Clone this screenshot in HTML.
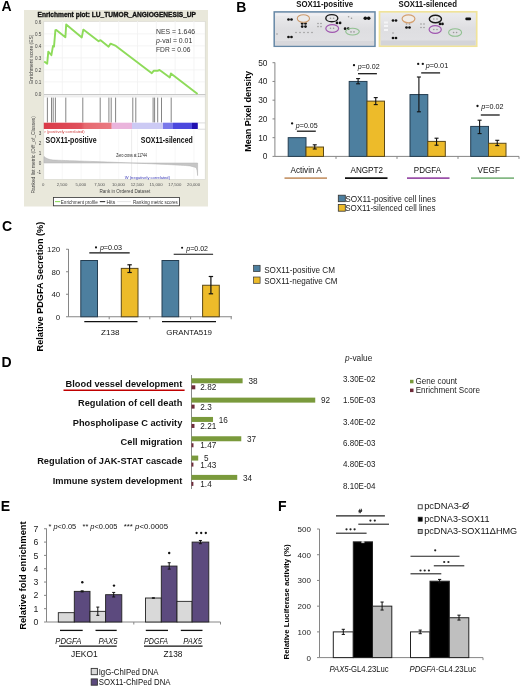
<!DOCTYPE html>
<html><head><meta charset="utf-8"><title>SOX11 angiogenesis figure</title>
<style>
html,body{margin:0;padding:0;background:#fff;}
body{width:520px;height:687px;overflow:hidden;}
svg{display:block;filter:blur(0.3px);font-family:"Liberation Sans",sans-serif;}
</style></head>
<body>
<svg width="520" height="687" viewBox="0 0 520 687">
<rect x="0" y="0" width="520" height="687" fill="#fff"/>
<text x="1.50" y="11.20" font-size="14" font-weight="bold">A</text>
<text x="236.20" y="11.50" font-size="14" font-weight="bold">B</text>
<text x="2.00" y="230.50" font-size="14" font-weight="bold">C</text>
<text x="1.50" y="367.30" font-size="14" font-weight="bold">D</text>
<text x="0.80" y="510.50" font-size="14" font-weight="bold">E</text>
<text x="278.00" y="511.20" font-size="14" font-weight="bold">F</text>
<rect x="24.00" y="10.00" width="184.00" height="196.50" fill="#e9e8db"/>
<text x="37.50" y="17.30" font-size="7.4" font-weight="bold" fill="#111" textLength="158.50" lengthAdjust="spacingAndGlyphs" stroke="#111" stroke-width="0.35">Enrichment plot: LU_TUMOR_ANGIOGENESIS_UP</text>
<rect x="43.80" y="21.30" width="161.40" height="158.20" fill="#fff" stroke="#d4d4cc" stroke-width="0.6"/>
<line x1="62.30" y1="21.00" x2="62.30" y2="94.00" stroke="#f1f1f1" stroke-width="0.8"/>
<line x1="62.30" y1="129.50" x2="62.30" y2="179.00" stroke="#f5f5f5" stroke-width="0.8"/>
<line x1="81.10" y1="21.00" x2="81.10" y2="94.00" stroke="#f1f1f1" stroke-width="0.8"/>
<line x1="81.10" y1="129.50" x2="81.10" y2="179.00" stroke="#f5f5f5" stroke-width="0.8"/>
<line x1="99.90" y1="21.00" x2="99.90" y2="94.00" stroke="#f1f1f1" stroke-width="0.8"/>
<line x1="99.90" y1="129.50" x2="99.90" y2="179.00" stroke="#f5f5f5" stroke-width="0.8"/>
<line x1="118.70" y1="21.00" x2="118.70" y2="94.00" stroke="#f1f1f1" stroke-width="0.8"/>
<line x1="118.70" y1="129.50" x2="118.70" y2="179.00" stroke="#f5f5f5" stroke-width="0.8"/>
<line x1="137.50" y1="21.00" x2="137.50" y2="94.00" stroke="#f1f1f1" stroke-width="0.8"/>
<line x1="137.50" y1="129.50" x2="137.50" y2="179.00" stroke="#f5f5f5" stroke-width="0.8"/>
<line x1="156.30" y1="21.00" x2="156.30" y2="94.00" stroke="#f1f1f1" stroke-width="0.8"/>
<line x1="156.30" y1="129.50" x2="156.30" y2="179.00" stroke="#f5f5f5" stroke-width="0.8"/>
<line x1="175.10" y1="21.00" x2="175.10" y2="94.00" stroke="#f1f1f1" stroke-width="0.8"/>
<line x1="175.10" y1="129.50" x2="175.10" y2="179.00" stroke="#f5f5f5" stroke-width="0.8"/>
<line x1="193.90" y1="21.00" x2="193.90" y2="94.00" stroke="#f1f1f1" stroke-width="0.8"/>
<line x1="193.90" y1="129.50" x2="193.90" y2="179.00" stroke="#f5f5f5" stroke-width="0.8"/>
<line x1="131.60" y1="129.50" x2="131.60" y2="179.00" stroke="#e6e6e6" stroke-width="0.8"/>
<line x1="44.00" y1="81.80" x2="205.00" y2="81.80" stroke="#f1f1f1" stroke-width="0.8"/>
<line x1="44.00" y1="69.80" x2="205.00" y2="69.80" stroke="#f1f1f1" stroke-width="0.8"/>
<line x1="44.00" y1="57.80" x2="205.00" y2="57.80" stroke="#f1f1f1" stroke-width="0.8"/>
<line x1="44.00" y1="45.80" x2="205.00" y2="45.80" stroke="#f1f1f1" stroke-width="0.8"/>
<line x1="44.00" y1="33.80" x2="205.00" y2="33.80" stroke="#f1f1f1" stroke-width="0.8"/>
<text x="41.40" y="95.50" font-size="4.6" text-anchor="end" fill="#444">0.0</text>
<text x="41.40" y="83.50" font-size="4.6" text-anchor="end" fill="#444">0.1</text>
<text x="41.40" y="71.50" font-size="4.6" text-anchor="end" fill="#444">0.2</text>
<text x="41.40" y="59.50" font-size="4.6" text-anchor="end" fill="#444">0.3</text>
<text x="41.40" y="47.50" font-size="4.6" text-anchor="end" fill="#444">0.4</text>
<text x="41.40" y="35.50" font-size="4.6" text-anchor="end" fill="#444">0.5</text>
<text x="41.40" y="23.50" font-size="4.6" text-anchor="end" fill="#444">0.6</text>
<text transform="translate(32.66,59.30) rotate(-90)" x="0" y="0" font-size="4.6" text-anchor="middle" fill="#444" textLength="49.40" lengthAdjust="spacingAndGlyphs">Enrichment score (ES)</text>
<line x1="44.00" y1="94.60" x2="205.50" y2="94.60" stroke="#c8c8c8" stroke-width="1.2"/>
<line x1="44.00" y1="96.80" x2="205.50" y2="96.80" stroke="#dedede" stroke-width="0.7"/>
<path d="M44.2,61.5 L47.2,63.7 L48.3,51.7 L51.4,55.2 L53.0,45.9 L54.0,46.6 L55.4,30.2 L56.3,30.0 L65.4,37.2 L66.2,24.4 L81.8,37.4 L83.3,29.6 L98.6,41.2 L100.6,40.2 L108.6,46.7 L110.6,43.6 L115.9,45.9 L151.8,73.2 L153.9,70.6 L157.5,70.8 L159.5,70.0 L161.3,71.2 L169.8,77.4 L170.9,73.4 L197.6,94.0" fill="none" stroke="#8edb5a" stroke-width="1.9" stroke-linejoin="round"/>
<text x="156.00" y="34.00" font-size="7.8" fill="#333" textLength="39.00" lengthAdjust="spacingAndGlyphs">NES = 1.646</text>
<text x="156.00" y="43.20" font-size="7.8" fill="#333" textLength="36.30" lengthAdjust="spacingAndGlyphs"><tspan font-style="italic">p</tspan>-val = 0.01</text>
<text x="156.00" y="52.30" font-size="7.8" fill="#333" textLength="34.40" lengthAdjust="spacingAndGlyphs">FDR = 0.06</text>
<line x1="47.40" y1="97.60" x2="47.40" y2="122.50" stroke="#777" stroke-width="0.9"/>
<line x1="51.50" y1="97.60" x2="51.50" y2="122.50" stroke="#777" stroke-width="0.9"/>
<line x1="53.20" y1="97.60" x2="53.20" y2="122.50" stroke="#777" stroke-width="0.9"/>
<line x1="55.40" y1="97.60" x2="55.40" y2="122.50" stroke="#777" stroke-width="0.9"/>
<line x1="65.80" y1="97.60" x2="65.80" y2="122.50" stroke="#777" stroke-width="0.9"/>
<line x1="82.80" y1="97.60" x2="82.80" y2="122.50" stroke="#777" stroke-width="0.9"/>
<line x1="100.20" y1="97.60" x2="100.20" y2="122.50" stroke="#777" stroke-width="0.9"/>
<line x1="108.90" y1="97.60" x2="108.90" y2="122.50" stroke="#777" stroke-width="0.9"/>
<line x1="111.20" y1="97.60" x2="111.20" y2="122.50" stroke="#777" stroke-width="0.9"/>
<line x1="115.60" y1="97.60" x2="115.60" y2="122.50" stroke="#777" stroke-width="0.9"/>
<line x1="132.80" y1="97.60" x2="132.80" y2="122.50" stroke="#777" stroke-width="0.9"/>
<line x1="135.80" y1="97.60" x2="135.80" y2="122.50" stroke="#777" stroke-width="0.9"/>
<line x1="153.10" y1="97.60" x2="153.10" y2="122.50" stroke="#777" stroke-width="0.9"/>
<line x1="154.60" y1="97.60" x2="154.60" y2="122.50" stroke="#777" stroke-width="0.9"/>
<line x1="157.70" y1="97.60" x2="157.70" y2="122.50" stroke="#777" stroke-width="0.9"/>
<line x1="161.50" y1="97.60" x2="161.50" y2="122.50" stroke="#777" stroke-width="0.9"/>
<line x1="171.20" y1="97.60" x2="171.20" y2="122.50" stroke="#777" stroke-width="0.9"/>
<defs><linearGradient id="cb" x1="0" x2="1" y1="0" y2="0"><stop offset="0" stop-color="#dc3c48"/><stop offset="0.45" stop-color="#e4646c"/><stop offset="0.44" stop-color="#e4646c"/></linearGradient></defs>
<rect x="43.80" y="122.70" width="68.00" height="6.30" fill="url(#cbr)"/>
<defs><linearGradient id="cbr" x1="0" x2="1" y1="0" y2="0"><stop offset="0" stop-color="#da3a48"/><stop offset="0.55" stop-color="#e0505c"/><stop offset="0.6" stop-color="#e6686f"/><stop offset="1" stop-color="#ea7a82"/></linearGradient></defs>
<rect x="111.70" y="122.70" width="20.30" height="6.30" fill="#eab4dc"/>
<rect x="132.00" y="122.70" width="31.00" height="6.30" fill="#cccaf4"/>
<rect x="163.00" y="122.70" width="10.00" height="6.30" fill="#7a78ea"/>
<rect x="173.00" y="122.70" width="19.00" height="6.30" fill="#4c48de"/>
<rect x="192.00" y="122.70" width="5.80" height="6.30" fill="#2010b0"/>
<line x1="197.80" y1="122.90" x2="205.30" y2="122.90" stroke="#cfcfcf" stroke-width="0.7"/>
<line x1="197.80" y1="129.20" x2="205.30" y2="129.20" stroke="#cfcfcf" stroke-width="0.7"/>
<text x="44.50" y="133.00" font-size="4.0" fill="#d04040" textLength="40.00" lengthAdjust="spacingAndGlyphs">r (positively correlated)</text>
<text x="45.60" y="143.20" font-size="8.8" font-weight="bold" fill="#111" textLength="51.00" lengthAdjust="spacingAndGlyphs">SOX11-positive</text>
<text x="140.80" y="143.00" font-size="8.8" font-weight="bold" fill="#111" textLength="52.00" lengthAdjust="spacingAndGlyphs">SOX11-silenced</text>
<text x="41.20" y="135.20" font-size="4.6" text-anchor="end" fill="#444">3</text>
<text x="41.20" y="145.00" font-size="4.6" text-anchor="end" fill="#444">2</text>
<text x="41.20" y="154.80" font-size="4.6" text-anchor="end" fill="#444">1</text>
<text x="41.20" y="164.60" font-size="4.6" text-anchor="end" fill="#444">0</text>
<text x="41.20" y="174.40" font-size="4.6" text-anchor="end" fill="#444">-1</text>
<text transform="translate(35.03,154.80) rotate(-90)" x="0" y="0" font-size="4.8" text-anchor="middle" fill="#444" textLength="77.40" lengthAdjust="spacingAndGlyphs">Ranked list metric (Diff_of_Classes)</text>
<path d="M44,163 L44,156.5 C46,158.5 49,159.6 53,160.0 C64,160.6 100,161.6 131.7,163 L131.7,163 C160,164.1 180,165 190,165.9 L196,167.5 C197,169 197.4,172 197.6,175.6 L197.6,163 Z" fill="#c6c6c6" stroke="#b0b0b0" stroke-width="0.5"/>
<text x="116.30" y="156.50" font-size="4.6" fill="#222" textLength="30.60" lengthAdjust="spacingAndGlyphs">Zero cross at 11744</text>
<text x="124.80" y="178.80" font-size="4.4" fill="#3a3ab8" textLength="45.20" lengthAdjust="spacingAndGlyphs">W (negatively correlated)</text>
<text x="43.20" y="185.60" font-size="4.25" text-anchor="middle" fill="#555">0</text>
<text x="62.00" y="185.60" font-size="4.25" text-anchor="middle" fill="#555">2,500</text>
<text x="80.80" y="185.60" font-size="4.25" text-anchor="middle" fill="#555">5,000</text>
<text x="99.60" y="185.60" font-size="4.25" text-anchor="middle" fill="#555">7,500</text>
<text x="118.40" y="185.60" font-size="4.25" text-anchor="middle" fill="#555">10,000</text>
<text x="137.20" y="185.60" font-size="4.25" text-anchor="middle" fill="#555">12,500</text>
<text x="156.00" y="185.60" font-size="4.25" text-anchor="middle" fill="#555">15,000</text>
<text x="174.80" y="185.60" font-size="4.25" text-anchor="middle" fill="#555">17,500</text>
<text x="193.60" y="185.60" font-size="4.25" text-anchor="middle" fill="#555">20,000</text>
<text x="99.50" y="193.00" font-size="5.4" fill="#444" textLength="50.80" lengthAdjust="spacingAndGlyphs">Rank in Ordered Dataset</text>
<rect x="53.50" y="197.50" width="126.00" height="8.30" fill="#fff" stroke="#333" stroke-width="0.8"/>
<line x1="55.00" y1="201.60" x2="60.30" y2="201.60" stroke="#8edb5a" stroke-width="1.1"/>
<text x="60.80" y="203.60" font-size="5.6" fill="#333" textLength="37.00" lengthAdjust="spacingAndGlyphs">Enrichment profile</text>
<line x1="99.80" y1="201.60" x2="105.20" y2="201.60" stroke="#333" stroke-width="1.1"/>
<text x="106.50" y="203.60" font-size="5.6" fill="#333" textLength="8.70" lengthAdjust="spacingAndGlyphs">Hits</text>
<line x1="117.20" y1="201.60" x2="130.90" y2="201.60" stroke="#e6e6e6" stroke-width="1.1"/>
<text x="133.10" y="203.60" font-size="5.6" fill="#333" textLength="44.70" lengthAdjust="spacingAndGlyphs">Ranking metric scores</text>
<text x="296.20" y="7.20" font-size="8.6" font-weight="bold" fill="#111" textLength="56.90" lengthAdjust="spacingAndGlyphs">SOX11-positive</text>
<text x="398.50" y="7.20" font-size="8.6" font-weight="bold" fill="#111" textLength="58.40" lengthAdjust="spacingAndGlyphs">SOX11-silenced</text>
<defs><linearGradient id="bl1" x1="0" y1="0" x2="0" y2="1"><stop offset="0" stop-color="#ececee"/><stop offset="0.5" stop-color="#dedee1"/><stop offset="1" stop-color="#e2e2e5"/></linearGradient></defs>
<rect x="274.20" y="11.90" width="100.80" height="34.40" fill="url(#bl1)" stroke="#6688a6" stroke-width="1.5"/>
<rect x="275.50" y="13.20" width="98.00" height="2.50" fill="#eeeef2"/>
<rect x="275.20" y="41.00" width="98.80" height="4.40" fill="#d8d8dc"/>
<circle cx="288.50" cy="19.50" r="1.35" fill="#111"/>
<circle cx="291.50" cy="19.50" r="1.35" fill="#111"/>
<circle cx="288.50" cy="37.00" r="1.35" fill="#111"/>
<circle cx="291.50" cy="37.00" r="1.35" fill="#111"/>
<circle cx="302.20" cy="23.50" r="1.35" fill="#111"/>
<circle cx="305.50" cy="23.50" r="1.35" fill="#111"/>
<circle cx="302.20" cy="26.60" r="1.35" fill="#111"/>
<circle cx="305.50" cy="26.60" r="1.35" fill="#111"/>
<circle cx="337.00" cy="22.90" r="1.35" fill="#111"/>
<circle cx="340.10" cy="22.90" r="1.35" fill="#111"/>
<circle cx="345.10" cy="28.70" r="1.35" fill="#111"/>
<circle cx="348.20" cy="28.70" r="1.35" fill="#111"/>
<circle cx="365.30" cy="18.30" r="1.8" fill="#111"/>
<circle cx="368.70" cy="18.30" r="1.8" fill="#111"/>
<circle cx="330.50" cy="18.30" r="0.8" fill="#9a9a9a"/>
<circle cx="333.60" cy="18.30" r="0.8" fill="#9a9a9a"/>
<circle cx="330.50" cy="28.20" r="0.8" fill="#9a9a9a"/>
<circle cx="333.60" cy="28.20" r="0.8" fill="#9a9a9a"/>
<circle cx="351.00" cy="31.90" r="0.8" fill="#9a9a9a"/>
<circle cx="354.00" cy="31.90" r="0.8" fill="#9a9a9a"/>
<circle cx="301.50" cy="18.50" r="0.8" fill="#9a9a9a"/>
<circle cx="305.00" cy="18.50" r="0.8" fill="#9a9a9a"/>
<circle cx="318.00" cy="23.50" r="0.8" fill="#9a9a9a"/>
<circle cx="321.00" cy="23.50" r="0.8" fill="#9a9a9a"/>
<circle cx="318.00" cy="26.60" r="0.8" fill="#9a9a9a"/>
<circle cx="321.00" cy="26.60" r="0.8" fill="#9a9a9a"/>
<circle cx="296.00" cy="32.50" r="0.8" fill="#9a9a9a"/>
<circle cx="300.00" cy="32.50" r="0.8" fill="#9a9a9a"/>
<circle cx="304.00" cy="32.50" r="0.8" fill="#9a9a9a"/>
<circle cx="308.00" cy="32.50" r="0.8" fill="#9a9a9a"/>
<circle cx="312.00" cy="32.50" r="0.8" fill="#9a9a9a"/>
<circle cx="277.00" cy="34.00" r="0.8" fill="#9a9a9a"/>
<circle cx="348.60" cy="16.70" r="0.8" fill="#9a9a9a"/>
<circle cx="351.50" cy="18.20" r="0.8" fill="#9a9a9a"/>
<ellipse cx="303.40" cy="18.50" rx="6.1" ry="3.8" fill="#eaeaea" stroke="#cc9a6c" stroke-width="1.1"/>
<ellipse cx="331.80" cy="18.20" rx="6.0" ry="3.6" fill="none" stroke="#1a1a1a" stroke-width="1.4"/>
<ellipse cx="332.20" cy="28.50" rx="6.4" ry="3.8" fill="none" stroke="#a058b0" stroke-width="1.2"/>
<ellipse cx="352.50" cy="31.60" rx="6.8" ry="3.4" fill="none" stroke="#90c090" stroke-width="1.1"/>
<rect x="379.50" y="11.80" width="97.20" height="34.40" fill="url(#bl1)" stroke="#f0e39a" stroke-width="1.7"/>
<rect x="381.00" y="40.50" width="94.50" height="4.80" fill="#d4d4d8"/>
<rect x="384.00" y="21.50" width="4.00" height="2.00" fill="#f4f4f6"/>
<rect x="384.00" y="25.00" width="4.00" height="2.00" fill="#f4f4f6"/>
<rect x="384.00" y="29.00" width="4.00" height="2.00" fill="#f4f4f6"/>
<circle cx="393.00" cy="20.50" r="1.35" fill="#111"/>
<circle cx="396.00" cy="20.50" r="1.35" fill="#111"/>
<circle cx="393.00" cy="38.00" r="1.35" fill="#111"/>
<circle cx="396.00" cy="38.00" r="1.35" fill="#111"/>
<circle cx="406.50" cy="27.50" r="1.35" fill="#111"/>
<circle cx="409.50" cy="27.50" r="1.35" fill="#111"/>
<circle cx="440.00" cy="23.90" r="1.35" fill="#111"/>
<circle cx="442.50" cy="23.90" r="1.35" fill="#111"/>
<rect x="465.30" y="17.60" width="5.80" height="2.60" fill="#111" rx="1.2"/>
<circle cx="406.50" cy="24.00" r="0.8" fill="#9a9a9a"/>
<circle cx="409.50" cy="24.00" r="0.8" fill="#9a9a9a"/>
<circle cx="433.80" cy="19.00" r="0.8" fill="#9a9a9a"/>
<circle cx="437.00" cy="19.00" r="0.8" fill="#9a9a9a"/>
<circle cx="433.80" cy="29.50" r="0.8" fill="#9a9a9a"/>
<circle cx="437.00" cy="29.50" r="0.8" fill="#9a9a9a"/>
<circle cx="453.60" cy="32.50" r="0.8" fill="#9a9a9a"/>
<circle cx="456.60" cy="32.50" r="0.8" fill="#9a9a9a"/>
<circle cx="393.00" cy="33.00" r="0.8" fill="#9a9a9a"/>
<circle cx="421.00" cy="24.00" r="0.8" fill="#9a9a9a"/>
<circle cx="424.00" cy="24.00" r="0.8" fill="#9a9a9a"/>
<circle cx="421.00" cy="27.50" r="0.8" fill="#9a9a9a"/>
<circle cx="424.00" cy="27.50" r="0.8" fill="#9a9a9a"/>
<ellipse cx="408.50" cy="18.80" rx="6.4" ry="4.0" fill="#f0ece8" stroke="#d4a070" stroke-width="1.2"/>
<ellipse cx="435.40" cy="19.00" rx="6.1" ry="3.8" fill="none" stroke="#1a1a1a" stroke-width="1.4"/>
<ellipse cx="435.20" cy="29.50" rx="6.1" ry="3.9" fill="none" stroke="#a058b0" stroke-width="1.2"/>
<ellipse cx="455.10" cy="32.50" rx="6.5" ry="3.8" fill="none" stroke="#90c090" stroke-width="1.1"/>
<line x1="274.90" y1="62.50" x2="274.90" y2="156.40" stroke="#868686" stroke-width="1"/>
<line x1="274.90" y1="156.40" x2="519.00" y2="156.40" stroke="#868686" stroke-width="1"/>
<line x1="272.50" y1="156.40" x2="274.90" y2="156.40" stroke="#868686" stroke-width="1"/>
<text x="267.50" y="159.40" font-size="8.4" text-anchor="end" fill="#222">0</text>
<line x1="272.50" y1="137.66" x2="274.90" y2="137.66" stroke="#868686" stroke-width="1"/>
<text x="267.50" y="140.66" font-size="8.4" text-anchor="end" fill="#222">10</text>
<line x1="272.50" y1="118.92" x2="274.90" y2="118.92" stroke="#868686" stroke-width="1"/>
<text x="267.50" y="121.92" font-size="8.4" text-anchor="end" fill="#222">20</text>
<line x1="272.50" y1="100.18" x2="274.90" y2="100.18" stroke="#868686" stroke-width="1"/>
<text x="267.50" y="103.18" font-size="8.4" text-anchor="end" fill="#222">30</text>
<line x1="272.50" y1="81.44" x2="274.90" y2="81.44" stroke="#868686" stroke-width="1"/>
<text x="267.50" y="84.44" font-size="8.4" text-anchor="end" fill="#222">40</text>
<line x1="272.50" y1="62.70" x2="274.90" y2="62.70" stroke="#868686" stroke-width="1"/>
<text x="267.50" y="65.70" font-size="8.4" text-anchor="end" fill="#222">50</text>
<line x1="336.00" y1="156.40" x2="336.00" y2="158.90" stroke="#868686" stroke-width="1"/>
<line x1="397.00" y1="156.40" x2="397.00" y2="158.90" stroke="#868686" stroke-width="1"/>
<line x1="458.00" y1="156.40" x2="458.00" y2="158.90" stroke="#868686" stroke-width="1"/>
<line x1="519.00" y1="156.40" x2="519.00" y2="158.90" stroke="#868686" stroke-width="1"/>
<text transform="translate(250.61,111.40) rotate(-90)" x="0" y="0" font-size="9.2" text-anchor="middle" font-weight="bold" textLength="80.80" lengthAdjust="spacingAndGlyphs">Mean Pixel density</text>
<rect x="288.20" y="137.66" width="17.80" height="18.74" fill="#4d7f9f" stroke="#243e52" stroke-width="1.0"/>
<rect x="306.00" y="147.03" width="17.50" height="9.37" fill="#edbb2a" stroke="#5a4818" stroke-width="1.0"/>
<line x1="314.75" y1="144.80" x2="314.75" y2="149.00" stroke="#111" stroke-width="1.1"/>
<line x1="312.75" y1="144.80" x2="316.75" y2="144.80" stroke="#111" stroke-width="1.1"/>
<line x1="312.75" y1="149.00" x2="316.75" y2="149.00" stroke="#111" stroke-width="1.1"/>
<rect x="349.20" y="81.44" width="17.80" height="74.96" fill="#4d7f9f" stroke="#243e52" stroke-width="1.0"/>
<rect x="367.00" y="101.12" width="17.50" height="55.28" fill="#edbb2a" stroke="#5a4818" stroke-width="1.0"/>
<line x1="358.10" y1="78.60" x2="358.10" y2="83.80" stroke="#111" stroke-width="1.1"/>
<line x1="356.10" y1="78.60" x2="360.10" y2="78.60" stroke="#111" stroke-width="1.1"/>
<line x1="356.10" y1="83.80" x2="360.10" y2="83.80" stroke="#111" stroke-width="1.1"/>
<line x1="375.75" y1="97.60" x2="375.75" y2="104.60" stroke="#111" stroke-width="1.1"/>
<line x1="373.75" y1="97.60" x2="377.75" y2="97.60" stroke="#111" stroke-width="1.1"/>
<line x1="373.75" y1="104.60" x2="377.75" y2="104.60" stroke="#111" stroke-width="1.1"/>
<rect x="410.00" y="94.56" width="17.80" height="61.84" fill="#4d7f9f" stroke="#243e52" stroke-width="1.0"/>
<rect x="427.80" y="141.41" width="17.50" height="14.99" fill="#edbb2a" stroke="#5a4818" stroke-width="1.0"/>
<line x1="418.90" y1="77.00" x2="418.90" y2="111.80" stroke="#111" stroke-width="1.1"/>
<line x1="416.90" y1="77.00" x2="420.90" y2="77.00" stroke="#111" stroke-width="1.1"/>
<line x1="416.90" y1="111.80" x2="420.90" y2="111.80" stroke="#111" stroke-width="1.1"/>
<line x1="436.55" y1="138.20" x2="436.55" y2="145.20" stroke="#111" stroke-width="1.1"/>
<line x1="434.55" y1="138.20" x2="438.55" y2="138.20" stroke="#111" stroke-width="1.1"/>
<line x1="434.55" y1="145.20" x2="438.55" y2="145.20" stroke="#111" stroke-width="1.1"/>
<rect x="470.70" y="126.42" width="17.80" height="29.98" fill="#4d7f9f" stroke="#243e52" stroke-width="1.0"/>
<rect x="488.50" y="143.28" width="17.50" height="13.12" fill="#edbb2a" stroke="#5a4818" stroke-width="1.0"/>
<line x1="479.60" y1="120.20" x2="479.60" y2="133.60" stroke="#111" stroke-width="1.1"/>
<line x1="477.60" y1="120.20" x2="481.60" y2="120.20" stroke="#111" stroke-width="1.1"/>
<line x1="477.60" y1="133.60" x2="481.60" y2="133.60" stroke="#111" stroke-width="1.1"/>
<line x1="497.25" y1="140.30" x2="497.25" y2="145.60" stroke="#111" stroke-width="1.1"/>
<line x1="495.25" y1="140.30" x2="499.25" y2="140.30" stroke="#111" stroke-width="1.1"/>
<line x1="495.25" y1="145.60" x2="499.25" y2="145.60" stroke="#111" stroke-width="1.1"/>
<circle cx="292.10" cy="123.40" r="1.15" fill="#111"/>
<text x="295.80" y="127.60" font-size="8.0" fill="#111" textLength="21.90" lengthAdjust="spacingAndGlyphs"><tspan font-style="italic">p</tspan>=0.05</text>
<line x1="296.90" y1="131.20" x2="315.80" y2="131.20" stroke="#111" stroke-width="1.25"/>
<circle cx="354.00" cy="65.20" r="1.15" fill="#111"/>
<text x="357.70" y="68.80" font-size="8.0" fill="#111" textLength="21.90" lengthAdjust="spacingAndGlyphs"><tspan font-style="italic">p</tspan>=0.02</text>
<line x1="358.00" y1="73.70" x2="376.90" y2="73.70" stroke="#111" stroke-width="1.25"/>
<circle cx="418.20" cy="63.90" r="1.15" fill="#111"/>
<circle cx="422.80" cy="63.90" r="1.15" fill="#111"/>
<text x="425.80" y="67.80" font-size="8.0" fill="#111" textLength="22.40" lengthAdjust="spacingAndGlyphs"><tspan font-style="italic">p</tspan>=0.01</text>
<line x1="421.20" y1="72.90" x2="440.10" y2="72.90" stroke="#111" stroke-width="1.25"/>
<circle cx="477.50" cy="106.00" r="1.15" fill="#111"/>
<text x="481.20" y="109.30" font-size="8.0" fill="#111" textLength="22.30" lengthAdjust="spacingAndGlyphs"><tspan font-style="italic">p</tspan>=0.02</text>
<line x1="480.80" y1="115.00" x2="499.70" y2="115.00" stroke="#111" stroke-width="1.25"/>
<text x="290.50" y="173.20" font-size="9.0" fill="#111" textLength="31.30" lengthAdjust="spacingAndGlyphs">Activin A</text>
<line x1="284.50" y1="178.20" x2="327.00" y2="178.20" stroke="#c89a70" stroke-width="1.8"/>
<text x="350.50" y="173.20" font-size="9.0" fill="#111" textLength="32.50" lengthAdjust="spacingAndGlyphs">ANGPT2</text>
<line x1="345.00" y1="178.20" x2="387.50" y2="178.20" stroke="#111" stroke-width="1.8"/>
<text x="413.80" y="173.20" font-size="9.0" fill="#111" textLength="27.20" lengthAdjust="spacingAndGlyphs">PDGFA</text>
<line x1="407.00" y1="178.20" x2="449.50" y2="178.20" stroke="#9a50a8" stroke-width="1.8"/>
<text x="477.50" y="173.20" font-size="9.0" fill="#111" textLength="22.50" lengthAdjust="spacingAndGlyphs">VEGF</text>
<line x1="471.00" y1="178.20" x2="514.00" y2="178.20" stroke="#84b884" stroke-width="1.8"/>
<rect x="338.30" y="195.20" width="7.00" height="6.50" fill="#4d7f9f" stroke="#333" stroke-width="0.8"/>
<rect x="338.30" y="204.50" width="7.00" height="6.70" fill="#edbb2a" stroke="#333" stroke-width="0.8"/>
<text x="345.20" y="201.70" font-size="9.0" fill="#222" textLength="90.60" lengthAdjust="spacingAndGlyphs">SOX11-positive cell lines</text>
<text x="345.20" y="211.20" font-size="9.0" fill="#222" textLength="90.30" lengthAdjust="spacingAndGlyphs">SOX11-silenced cell lines</text>
<line x1="68.50" y1="249.00" x2="68.50" y2="316.75" stroke="#868686" stroke-width="1"/>
<line x1="68.50" y1="316.75" x2="232.00" y2="316.75" stroke="#868686" stroke-width="1"/>
<line x1="66.00" y1="316.75" x2="68.50" y2="316.75" stroke="#868686" stroke-width="1"/>
<text x="60.20" y="319.65" font-size="7.9" text-anchor="end" fill="#222">0</text>
<line x1="66.00" y1="294.25" x2="68.50" y2="294.25" stroke="#868686" stroke-width="1"/>
<text x="60.20" y="297.15" font-size="7.9" text-anchor="end" fill="#222">40</text>
<line x1="66.00" y1="271.75" x2="68.50" y2="271.75" stroke="#868686" stroke-width="1"/>
<text x="60.20" y="274.65" font-size="7.9" text-anchor="end" fill="#222">80</text>
<line x1="66.00" y1="249.25" x2="68.50" y2="249.25" stroke="#868686" stroke-width="1"/>
<text x="60.20" y="252.15" font-size="7.9" text-anchor="end" fill="#222">120</text>
<line x1="109.20" y1="316.75" x2="109.20" y2="319.25" stroke="#868686" stroke-width="1"/>
<line x1="149.80" y1="316.75" x2="149.80" y2="319.25" stroke="#868686" stroke-width="1"/>
<line x1="190.60" y1="316.75" x2="190.60" y2="319.25" stroke="#868686" stroke-width="1"/>
<line x1="231.20" y1="316.75" x2="231.20" y2="319.25" stroke="#868686" stroke-width="1"/>
<text transform="translate(43.24,286.60) rotate(-90)" x="0" y="0" font-size="9.0" text-anchor="middle" font-weight="bold" textLength="129.60" lengthAdjust="spacingAndGlyphs">Relative PDGFA Secretion (%)</text>
<rect x="80.80" y="260.50" width="16.70" height="56.25" fill="#4d7f9f" stroke="#243e52" stroke-width="1.0"/>
<rect x="121.30" y="268.38" width="16.70" height="48.38" fill="#edbb2a" stroke="#5a4818" stroke-width="1.0"/>
<rect x="162.00" y="260.50" width="16.70" height="56.25" fill="#4d7f9f" stroke="#243e52" stroke-width="1.0"/>
<rect x="202.60" y="285.25" width="16.70" height="31.50" fill="#edbb2a" stroke="#5a4818" stroke-width="1.0"/>
<line x1="129.60" y1="264.80" x2="129.60" y2="272.50" stroke="#111" stroke-width="1.2"/>
<line x1="127.40" y1="264.80" x2="131.80" y2="264.80" stroke="#111" stroke-width="1.2"/>
<line x1="127.40" y1="272.50" x2="131.80" y2="272.50" stroke="#111" stroke-width="1.2"/>
<line x1="210.90" y1="276.50" x2="210.90" y2="293.80" stroke="#111" stroke-width="1.2"/>
<line x1="208.70" y1="276.50" x2="213.10" y2="276.50" stroke="#111" stroke-width="1.2"/>
<line x1="208.70" y1="293.80" x2="213.10" y2="293.80" stroke="#111" stroke-width="1.2"/>
<circle cx="96.00" cy="247.40" r="1.05" fill="#111"/>
<text x="99.90" y="250.40" font-size="7.1" fill="#111" textLength="22.10" lengthAdjust="spacingAndGlyphs"><tspan font-style="italic">p</tspan>=0.03</text>
<line x1="89.30" y1="252.90" x2="129.70" y2="252.90" stroke="#111" stroke-width="1.1"/>
<circle cx="182.10" cy="247.80" r="1.05" fill="#111"/>
<text x="186.20" y="251.30" font-size="7.1" fill="#111" textLength="21.80" lengthAdjust="spacingAndGlyphs"><tspan font-style="italic">p</tspan>=0.02</text>
<line x1="173.70" y1="254.30" x2="213.10" y2="254.30" stroke="#111" stroke-width="1.1"/>
<line x1="84.30" y1="321.60" x2="137.50" y2="321.60" stroke="#111" stroke-width="1.4"/>
<line x1="162.00" y1="321.60" x2="216.00" y2="321.60" stroke="#111" stroke-width="1.4"/>
<text x="101.00" y="334.60" font-size="8.0" fill="#111" textLength="18.50" lengthAdjust="spacingAndGlyphs">Z138</text>
<text x="166.30" y="334.60" font-size="8.0" fill="#111" textLength="45.70" lengthAdjust="spacingAndGlyphs">GRANTA519</text>
<rect x="253.60" y="265.30" width="6.50" height="6.30" fill="#4d7f9f" stroke="#333" stroke-width="0.7"/>
<rect x="253.60" y="277.00" width="6.50" height="6.30" fill="#edbb2a" stroke="#333" stroke-width="0.7"/>
<text x="264.20" y="272.50" font-size="9.0" fill="#222" textLength="70.80" lengthAdjust="spacingAndGlyphs">SOX11-positive CM</text>
<text x="264.20" y="284.20" font-size="9.0" fill="#222" textLength="73.30" lengthAdjust="spacingAndGlyphs">SOX11-negative CM</text>
<line x1="191.50" y1="375.00" x2="191.50" y2="489.00" stroke="#8a8a8a" stroke-width="1"/>
<rect x="191.50" y="378.30" width="51.11" height="5.00" fill="#7a9a3c"/>
<rect x="191.50" y="385.30" width="3.79" height="4.00" fill="#6e2b3a"/>
<text x="248.41" y="383.90" font-size="8.2" fill="#222">38</text>
<text x="200.30" y="390.30" font-size="8.2" fill="#222">2.82</text>
<text x="182.30" y="387.00" font-size="9.25" font-weight="bold" text-anchor="end" fill="#111">Blood vessel development</text>
<text x="343.00" y="381.90" font-size="8.6" fill="#222" textLength="32.50" lengthAdjust="spacingAndGlyphs">3.30E-02</text>
<rect x="191.50" y="397.62" width="123.74" height="5.00" fill="#7a9a3c"/>
<rect x="191.50" y="404.62" width="3.09" height="4.00" fill="#6e2b3a"/>
<text x="321.04" y="403.22" font-size="8.2" fill="#222">92</text>
<text x="200.30" y="409.62" font-size="8.2" fill="#222">2.3</text>
<text x="182.30" y="406.32" font-size="9.25" font-weight="bold" text-anchor="end" fill="#111">Regulation of cell death</text>
<text x="343.00" y="403.22" font-size="8.6" fill="#222" textLength="32.50" lengthAdjust="spacingAndGlyphs">1.50E-03</text>
<rect x="191.50" y="416.94" width="21.52" height="5.00" fill="#7a9a3c"/>
<rect x="191.50" y="423.94" width="2.97" height="4.00" fill="#6e2b3a"/>
<text x="218.82" y="422.54" font-size="8.2" fill="#222">16</text>
<text x="200.30" y="428.94" font-size="8.2" fill="#222">2.21</text>
<text x="182.30" y="425.64" font-size="9.25" font-weight="bold" text-anchor="end" fill="#111">Phospholipase C activity</text>
<text x="343.00" y="424.54" font-size="8.6" fill="#222" textLength="32.50" lengthAdjust="spacingAndGlyphs">3.40E-02</text>
<rect x="191.50" y="436.26" width="49.77" height="5.00" fill="#7a9a3c"/>
<rect x="191.50" y="443.26" width="1.98" height="4.00" fill="#6e2b3a"/>
<text x="247.06" y="441.86" font-size="8.2" fill="#222">37</text>
<text x="200.30" y="448.26" font-size="8.2" fill="#222">1.47</text>
<text x="182.30" y="444.96" font-size="9.25" font-weight="bold" text-anchor="end" fill="#111">Cell migration</text>
<text x="343.00" y="445.86" font-size="8.6" fill="#222" textLength="32.50" lengthAdjust="spacingAndGlyphs">6.80E-03</text>
<rect x="191.50" y="455.58" width="6.72" height="5.00" fill="#7a9a3c"/>
<rect x="191.50" y="462.58" width="1.92" height="4.00" fill="#6e2b3a"/>
<text x="204.03" y="461.18" font-size="8.2" fill="#222">5</text>
<text x="200.30" y="467.58" font-size="8.2" fill="#222">1.43</text>
<text x="182.30" y="464.28" font-size="9.25" font-weight="bold" text-anchor="end" fill="#111">Regulation of JAK-STAT cascade</text>
<text x="343.00" y="467.18" font-size="8.6" fill="#222" textLength="32.50" lengthAdjust="spacingAndGlyphs">4.80E-03</text>
<rect x="191.50" y="474.90" width="45.73" height="5.00" fill="#7a9a3c"/>
<rect x="191.50" y="481.90" width="1.88" height="4.00" fill="#6e2b3a"/>
<text x="243.03" y="480.50" font-size="8.2" fill="#222">34</text>
<text x="200.30" y="486.90" font-size="8.2" fill="#222">1.4</text>
<text x="182.30" y="483.60" font-size="9.25" font-weight="bold" text-anchor="end" fill="#111">Immune system development</text>
<text x="343.00" y="488.50" font-size="8.6" fill="#222" textLength="32.50" lengthAdjust="spacingAndGlyphs">8.10E-04</text>
<line x1="63.50" y1="390.20" x2="184.60" y2="390.20" stroke="#c00000" stroke-width="1.5"/>
<text x="345.00" y="360.80" font-size="8.6" fill="#222" textLength="27.30" lengthAdjust="spacingAndGlyphs"><tspan font-style="italic">p</tspan>-value</text>
<rect x="410.00" y="379.80" width="3.50" height="3.50" fill="#7a9a3c"/>
<rect x="410.00" y="388.60" width="3.50" height="3.50" fill="#6e2b3a"/>
<text x="415.50" y="384.00" font-size="8.2" fill="#222" textLength="41.60" lengthAdjust="spacingAndGlyphs">Gene count</text>
<text x="415.70" y="392.50" font-size="8.2" fill="#222" textLength="64.30" lengthAdjust="spacingAndGlyphs">Enrichment Score</text>
<line x1="46.50" y1="528.50" x2="46.50" y2="622.00" stroke="#868686" stroke-width="1"/>
<line x1="46.50" y1="622.00" x2="220.50" y2="622.00" stroke="#868686" stroke-width="1"/>
<line x1="44.00" y1="622.00" x2="46.50" y2="622.00" stroke="#868686" stroke-width="1"/>
<text x="38.40" y="625.10" font-size="8.7" text-anchor="end" fill="#222">0</text>
<line x1="44.00" y1="608.68" x2="46.50" y2="608.68" stroke="#868686" stroke-width="1"/>
<text x="38.40" y="611.78" font-size="8.7" text-anchor="end" fill="#222">1</text>
<line x1="44.00" y1="595.36" x2="46.50" y2="595.36" stroke="#868686" stroke-width="1"/>
<text x="38.40" y="598.46" font-size="8.7" text-anchor="end" fill="#222">2</text>
<line x1="44.00" y1="582.04" x2="46.50" y2="582.04" stroke="#868686" stroke-width="1"/>
<text x="38.40" y="585.14" font-size="8.7" text-anchor="end" fill="#222">3</text>
<line x1="44.00" y1="568.72" x2="46.50" y2="568.72" stroke="#868686" stroke-width="1"/>
<text x="38.40" y="571.82" font-size="8.7" text-anchor="end" fill="#222">4</text>
<line x1="44.00" y1="555.40" x2="46.50" y2="555.40" stroke="#868686" stroke-width="1"/>
<text x="38.40" y="558.50" font-size="8.7" text-anchor="end" fill="#222">5</text>
<line x1="44.00" y1="542.08" x2="46.50" y2="542.08" stroke="#868686" stroke-width="1"/>
<text x="38.40" y="545.18" font-size="8.7" text-anchor="end" fill="#222">6</text>
<line x1="44.00" y1="528.76" x2="46.50" y2="528.76" stroke="#868686" stroke-width="1"/>
<text x="38.40" y="531.86" font-size="8.7" text-anchor="end" fill="#222">7</text>
<line x1="133.80" y1="622.00" x2="133.80" y2="624.50" stroke="#868686" stroke-width="1"/>
<line x1="220.50" y1="622.00" x2="220.50" y2="624.50" stroke="#868686" stroke-width="1"/>
<text transform="translate(25.98,575.60) rotate(-90)" x="0" y="0" font-size="9.1" text-anchor="middle" font-weight="bold" textLength="108.50" lengthAdjust="spacingAndGlyphs">Relative  fold enrichment</text>
<rect x="58.30" y="612.68" width="16.00" height="9.32" fill="#d9d9d9" stroke="#222" stroke-width="0.9"/>
<rect x="74.30" y="591.36" width="15.70" height="30.64" fill="#5c4a7e" stroke="#222" stroke-width="0.9"/>
<rect x="90.00" y="611.34" width="15.60" height="10.66" fill="#d9d9d9" stroke="#222" stroke-width="0.9"/>
<rect x="105.60" y="594.69" width="16.20" height="27.31" fill="#5c4a7e" stroke="#222" stroke-width="0.9"/>
<rect x="145.50" y="598.02" width="15.80" height="23.98" fill="#d9d9d9" stroke="#222" stroke-width="0.9"/>
<rect x="161.30" y="566.06" width="15.70" height="55.94" fill="#5c4a7e" stroke="#222" stroke-width="0.9"/>
<rect x="177.00" y="601.35" width="15.10" height="20.65" fill="#d9d9d9" stroke="#222" stroke-width="0.9"/>
<rect x="192.10" y="542.08" width="16.70" height="79.92" fill="#5c4a7e" stroke="#222" stroke-width="0.9"/>
<line x1="82.20" y1="590.83" x2="82.20" y2="591.90" stroke="#111" stroke-width="1"/>
<line x1="80.70" y1="590.83" x2="83.70" y2="590.83" stroke="#111" stroke-width="1"/>
<line x1="80.70" y1="591.90" x2="83.70" y2="591.90" stroke="#111" stroke-width="1"/>
<line x1="97.80" y1="607.08" x2="97.80" y2="615.34" stroke="#111" stroke-width="1"/>
<line x1="96.30" y1="607.08" x2="99.30" y2="607.08" stroke="#111" stroke-width="1"/>
<line x1="96.30" y1="615.34" x2="99.30" y2="615.34" stroke="#111" stroke-width="1"/>
<line x1="113.70" y1="592.43" x2="113.70" y2="596.96" stroke="#111" stroke-width="1"/>
<line x1="112.20" y1="592.43" x2="115.20" y2="592.43" stroke="#111" stroke-width="1"/>
<line x1="112.20" y1="596.96" x2="115.20" y2="596.96" stroke="#111" stroke-width="1"/>
<line x1="169.20" y1="562.73" x2="169.20" y2="569.12" stroke="#111" stroke-width="1"/>
<line x1="167.70" y1="562.73" x2="170.70" y2="562.73" stroke="#111" stroke-width="1"/>
<line x1="167.70" y1="569.12" x2="170.70" y2="569.12" stroke="#111" stroke-width="1"/>
<line x1="200.40" y1="540.48" x2="200.40" y2="543.68" stroke="#111" stroke-width="1"/>
<line x1="198.90" y1="540.48" x2="201.90" y2="540.48" stroke="#111" stroke-width="1"/>
<line x1="198.90" y1="543.68" x2="201.90" y2="543.68" stroke="#111" stroke-width="1"/>
<line x1="153.40" y1="597.62" x2="153.40" y2="598.42" stroke="#111" stroke-width="0.8"/>
<line x1="151.90" y1="597.62" x2="154.90" y2="597.62" stroke="#111" stroke-width="0.8"/>
<line x1="151.90" y1="598.42" x2="154.90" y2="598.42" stroke="#111" stroke-width="0.8"/>
<circle cx="82.30" cy="582.30" r="1.2" fill="#111"/>
<circle cx="114.00" cy="585.60" r="1.2" fill="#111"/>
<circle cx="169.20" cy="553.00" r="1.2" fill="#111"/>
<circle cx="196.60" cy="533.00" r="1.15" fill="#111"/>
<circle cx="201.20" cy="533.00" r="1.15" fill="#111"/>
<circle cx="205.80" cy="533.00" r="1.15" fill="#111"/>
<text x="48.50" y="529.00" font-size="8.0" fill="#111" textLength="27.70" lengthAdjust="spacingAndGlyphs">* <tspan font-style="italic">p</tspan>&lt;0.05</text>
<text x="82.50" y="529.00" font-size="8.0" fill="#111" textLength="35.00" lengthAdjust="spacingAndGlyphs">** <tspan font-style="italic">p</tspan>&lt;0.005</text>
<text x="123.70" y="529.00" font-size="8.0" fill="#111" textLength="44.30" lengthAdjust="spacingAndGlyphs">*** <tspan font-style="italic">p</tspan>&lt;0.0005</text>
<line x1="60.00" y1="630.40" x2="82.70" y2="630.40" stroke="#111" stroke-width="1.3"/>
<line x1="95.50" y1="630.40" x2="116.70" y2="630.40" stroke="#111" stroke-width="1.3"/>
<line x1="145.80" y1="630.40" x2="168.00" y2="630.40" stroke="#111" stroke-width="1.3"/>
<line x1="180.80" y1="630.40" x2="202.50" y2="630.40" stroke="#111" stroke-width="1.3"/>
<text x="55.30" y="644.00" font-size="8.2" font-style="italic" fill="#111" textLength="26.00" lengthAdjust="spacingAndGlyphs">PDGFA</text>
<text x="98.50" y="644.00" font-size="8.2" font-style="italic" fill="#111" textLength="19.00" lengthAdjust="spacingAndGlyphs">PAX5</text>
<text x="144.10" y="644.00" font-size="8.2" font-style="italic" fill="#111" textLength="23.80" lengthAdjust="spacingAndGlyphs">PDGFA</text>
<text x="183.20" y="644.00" font-size="8.2" font-style="italic" fill="#111" textLength="18.70" lengthAdjust="spacingAndGlyphs">PAX5</text>
<line x1="59.00" y1="646.20" x2="116.70" y2="646.20" stroke="#111" stroke-width="1.2"/>
<line x1="144.00" y1="646.20" x2="202.60" y2="646.20" stroke="#111" stroke-width="1.2"/>
<text x="71.00" y="657.20" font-size="8.6" fill="#111" textLength="26.70" lengthAdjust="spacingAndGlyphs">JEKO1</text>
<text x="163.50" y="657.20" font-size="8.6" fill="#111" textLength="19.00" lengthAdjust="spacingAndGlyphs">Z138</text>
<rect x="91.20" y="668.40" width="6.20" height="6.30" fill="#d9d9d9" stroke="#333" stroke-width="0.9"/>
<rect x="91.20" y="678.90" width="6.20" height="6.30" fill="#5c4a7e" stroke="#333" stroke-width="0.9"/>
<text x="98.70" y="675.00" font-size="9.0" fill="#111" textLength="59.80" lengthAdjust="spacingAndGlyphs">IgG-ChIPed DNA</text>
<text x="98.70" y="685.40" font-size="9.0" fill="#111" textLength="71.90" lengthAdjust="spacingAndGlyphs">SOX11-ChIPed DNA</text>
<line x1="319.50" y1="529.00" x2="319.50" y2="657.60" stroke="#868686" stroke-width="1"/>
<line x1="319.50" y1="657.60" x2="483.00" y2="657.60" stroke="#868686" stroke-width="1"/>
<line x1="317.00" y1="657.60" x2="319.50" y2="657.60" stroke="#868686" stroke-width="1"/>
<text x="310.90" y="660.60" font-size="8.0" text-anchor="end" fill="#222">0</text>
<line x1="317.00" y1="631.88" x2="319.50" y2="631.88" stroke="#868686" stroke-width="1"/>
<text x="310.90" y="634.88" font-size="8.0" text-anchor="end" fill="#222">100</text>
<line x1="317.00" y1="606.16" x2="319.50" y2="606.16" stroke="#868686" stroke-width="1"/>
<text x="310.90" y="609.16" font-size="8.0" text-anchor="end" fill="#222">200</text>
<line x1="317.00" y1="580.44" x2="319.50" y2="580.44" stroke="#868686" stroke-width="1"/>
<text x="310.90" y="583.44" font-size="8.0" text-anchor="end" fill="#222">300</text>
<line x1="317.00" y1="554.72" x2="319.50" y2="554.72" stroke="#868686" stroke-width="1"/>
<text x="310.90" y="557.72" font-size="8.0" text-anchor="end" fill="#222">400</text>
<line x1="317.00" y1="529.00" x2="319.50" y2="529.00" stroke="#868686" stroke-width="1"/>
<text x="310.90" y="532.00" font-size="8.0" text-anchor="end" fill="#222">500</text>
<line x1="483.00" y1="657.60" x2="483.00" y2="660.10" stroke="#868686" stroke-width="1"/>
<text transform="translate(289.24,602.00) rotate(-90)" x="0" y="0" font-size="7.9" text-anchor="middle" font-weight="bold" textLength="115.00" lengthAdjust="spacingAndGlyphs">Relative Luciferase activity (%)</text>
<rect x="333.30" y="631.88" width="20.00" height="25.72" fill="#ffffff" stroke="#222" stroke-width="1"/>
<rect x="353.30" y="541.86" width="19.20" height="115.74" fill="#000000" stroke="#222" stroke-width="1"/>
<rect x="372.50" y="606.16" width="19.30" height="51.44" fill="#bfbfbf" stroke="#222" stroke-width="1"/>
<rect x="410.50" y="631.88" width="19.50" height="25.72" fill="#ffffff" stroke="#222" stroke-width="1"/>
<rect x="430.00" y="581.21" width="19.30" height="76.39" fill="#000000" stroke="#222" stroke-width="1"/>
<rect x="449.30" y="617.73" width="19.50" height="39.87" fill="#bfbfbf" stroke="#222" stroke-width="1"/>
<line x1="343.30" y1="629.31" x2="343.30" y2="634.45" stroke="#111" stroke-width="1"/>
<line x1="341.70" y1="629.31" x2="344.90" y2="629.31" stroke="#111" stroke-width="1"/>
<line x1="341.70" y1="634.45" x2="344.90" y2="634.45" stroke="#111" stroke-width="1"/>
<line x1="362.90" y1="541.09" x2="362.90" y2="542.63" stroke="#fff" stroke-width="0.8"/>
<line x1="361.30" y1="541.09" x2="364.50" y2="541.09" stroke="#fff" stroke-width="0.8"/>
<line x1="361.30" y1="542.63" x2="364.50" y2="542.63" stroke="#fff" stroke-width="0.8"/>
<line x1="382.10" y1="602.04" x2="382.10" y2="610.02" stroke="#111" stroke-width="1"/>
<line x1="380.50" y1="602.04" x2="383.70" y2="602.04" stroke="#111" stroke-width="1"/>
<line x1="380.50" y1="610.02" x2="383.70" y2="610.02" stroke="#111" stroke-width="1"/>
<line x1="420.20" y1="630.08" x2="420.20" y2="633.68" stroke="#111" stroke-width="1"/>
<line x1="418.60" y1="630.08" x2="421.80" y2="630.08" stroke="#111" stroke-width="1"/>
<line x1="418.60" y1="633.68" x2="421.80" y2="633.68" stroke="#111" stroke-width="1"/>
<line x1="439.60" y1="579.41" x2="439.60" y2="582.75" stroke="#111" stroke-width="1"/>
<line x1="438.00" y1="579.41" x2="441.20" y2="579.41" stroke="#111" stroke-width="1"/>
<line x1="438.00" y1="582.75" x2="441.20" y2="582.75" stroke="#111" stroke-width="1"/>
<line x1="459.00" y1="615.16" x2="459.00" y2="620.05" stroke="#111" stroke-width="1"/>
<line x1="457.40" y1="615.16" x2="460.60" y2="615.16" stroke="#111" stroke-width="1"/>
<line x1="457.40" y1="620.05" x2="460.60" y2="620.05" stroke="#111" stroke-width="1"/>
<line x1="336.00" y1="515.90" x2="384.90" y2="515.90" stroke="#222" stroke-width="1.1"/>
<line x1="358.30" y1="524.20" x2="389.00" y2="524.20" stroke="#222" stroke-width="1.1"/>
<line x1="336.00" y1="533.20" x2="366.60" y2="533.20" stroke="#222" stroke-width="1.1"/>
<line x1="410.50" y1="556.30" x2="459.50" y2="556.30" stroke="#222" stroke-width="1.1"/>
<line x1="433.80" y1="565.80" x2="464.30" y2="565.80" stroke="#222" stroke-width="1.1"/>
<line x1="410.50" y1="573.80" x2="441.30" y2="573.80" stroke="#222" stroke-width="1.1"/>
<text x="358.40" y="513.20" font-size="6.0" fill="#222" textLength="3.60" lengthAdjust="spacingAndGlyphs" stroke="#222" stroke-width="0.3">#</text>
<circle cx="370.40" cy="520.60" r="1.1" fill="#222"/>
<circle cx="374.80" cy="520.60" r="1.1" fill="#222"/>
<circle cx="346.50" cy="529.30" r="1.1" fill="#222"/>
<circle cx="350.50" cy="529.30" r="1.1" fill="#222"/>
<circle cx="354.60" cy="529.30" r="1.1" fill="#222"/>
<circle cx="435.20" cy="550.30" r="1.1" fill="#222"/>
<circle cx="444.20" cy="562.00" r="1.1" fill="#222"/>
<circle cx="448.40" cy="562.00" r="1.1" fill="#222"/>
<circle cx="420.50" cy="570.50" r="1.1" fill="#222"/>
<circle cx="424.70" cy="570.50" r="1.1" fill="#222"/>
<circle cx="428.90" cy="570.50" r="1.1" fill="#222"/>
<text x="329.50" y="672.40" font-size="9.2" fill="#111" textLength="59.20" lengthAdjust="spacingAndGlyphs"><tspan font-style="italic">PAX5</tspan>-GL4.23Luc</text>
<text x="409.50" y="672.40" font-size="9.2" fill="#111" textLength="66.70" lengthAdjust="spacingAndGlyphs"><tspan font-style="italic">PDGFA</tspan>-GL4.23Luc</text>
<rect x="418.20" y="504.80" width="4.00" height="4.00" fill="#fff" stroke="#222" stroke-width="0.8"/>
<rect x="418.20" y="517.20" width="4.00" height="4.00" fill="#000" stroke="#222" stroke-width="0.8"/>
<rect x="418.20" y="529.40" width="4.00" height="4.00" fill="#bfbfbf" stroke="#222" stroke-width="0.8"/>
<text x="424.20" y="509.10" font-size="9.2" fill="#111" textLength="45.00" lengthAdjust="spacingAndGlyphs">pcDNA3-Ø</text>
<text x="424.20" y="522.10" font-size="9.2" fill="#111" textLength="65.30" lengthAdjust="spacingAndGlyphs">pcDNA3-SOX11</text>
<text x="424.20" y="534.30" font-size="9.2" fill="#111" textLength="93.00" lengthAdjust="spacingAndGlyphs">pcDNA3-SOX11ΔHMG</text>
</svg>
</body></html>
